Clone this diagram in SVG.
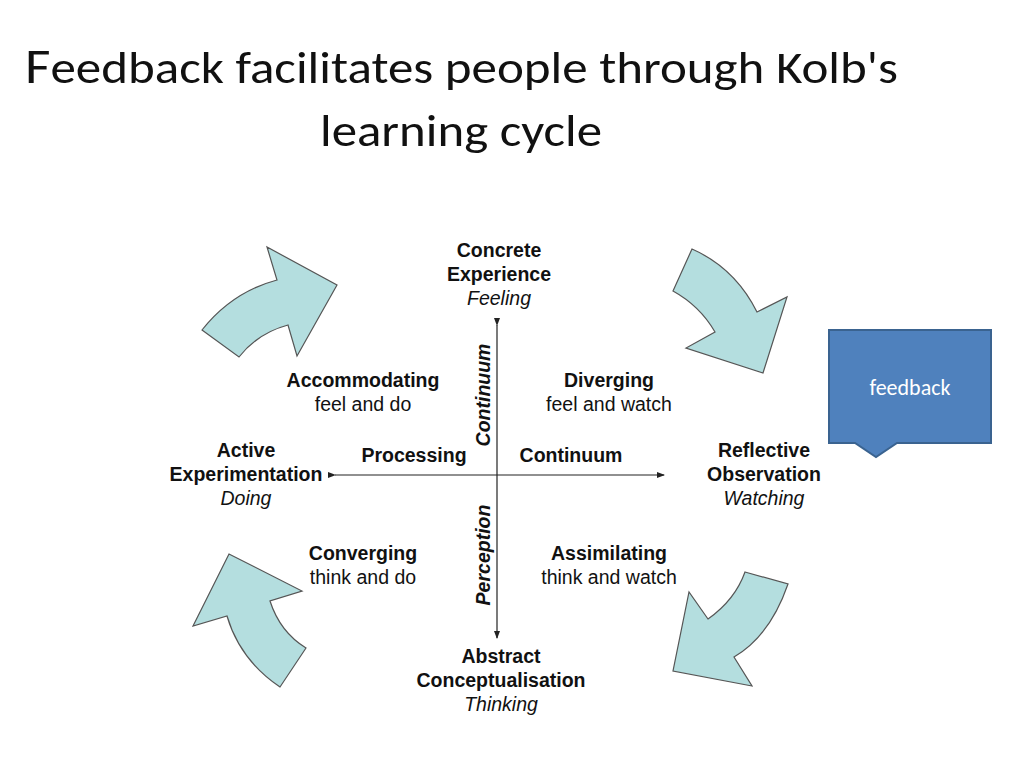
<svg xmlns="http://www.w3.org/2000/svg" width="1024" height="768" viewBox="0 0 1024 768">
<defs>
<style>
.t{font-family:"Liberation Sans",Arial,sans-serif;font-size:19.5px;fill:#111;text-anchor:middle}
.b{font-weight:bold}
.i{font-style:italic}
.arr{fill:#b4dedf;stroke:#555;stroke-width:1.2}
.ax{stroke:#222;stroke-width:1.2;fill:none}
</style>
<marker id="ah" markerWidth="8" markerHeight="8" refX="7" refY="4" orient="auto" markerUnits="userSpaceOnUse"><path d="M0,1 L8,4 L0,7Z" fill="#222"/></marker>
</defs>
<rect width="1024" height="768" fill="#fff"/>
<g id="title" font-family="Calibri,Carlito,'Liberation Sans',sans-serif" font-size="46" fill="#111">
<text x="25" y="83" textLength="873" lengthAdjust="spacingAndGlyphs"><tspan font-size="50">F</tspan>eedback facilitates people through Kolb's</text>
<text x="320" y="146" textLength="282" lengthAdjust="spacingAndGlyphs">learning cycle</text>
</g>
<g id="connectors">
<line class="ax" x1="497" y1="325" x2="497" y2="638" marker-start="url(#ah)" marker-end="url(#ah)"/>
<line class="ax" x1="335" y1="475" x2="664" y2="475" marker-start="url(#ah)" marker-end="url(#ah)"/>
</g>
<g id="cycle-arrows">
<path class="arr" d="M202,330 L239,357 Q258,333 288,325 L297,356 L337,285 L267,247 L277,280 Q232,292 202,330Z"/>
<path class="arr" d="M692,249 L673,291 Q700,306 715,332 L686,348 L763,373 L787,297 L757,312 Q735,268 692,249Z"/>
<path class="arr" d="M745,572 L788,584 Q770,636 734,657 L752,686 L673,671 L689,592 L708,619 Q735,600 745,572Z"/>
<path class="arr" d="M306,648 L280,687 Q240,660 227,616 L193,626 L229,554 L302,591 L270,601 Q280,632 306,648Z"/>
</g>
<g id="ce"><text class="t b" x="499" y="257">Concrete</text><text class="t b" x="499" y="281">Experience</text><text class="t i" x="499" y="305">Feeling</text></g>
<g id="ro"><text class="t b" x="764" y="457">Reflective</text><text class="t b" x="764" y="481">Observation</text><text class="t i" x="764" y="505">Watching</text></g>
<g id="ac"><text class="t b" x="501" y="663">Abstract</text><text class="t b" x="501" y="687">Conceptualisation</text><text class="t i" x="501" y="711">Thinking</text></g>
<g id="ae"><text class="t b" x="246" y="457">Active</text><text class="t b" x="246" y="481">Experimentation</text><text class="t i" x="246" y="505">Doing</text></g>
<g id="acc"><text class="t b" x="363" y="387">Accommodating</text><text class="t" x="363" y="411">feel and do</text></g>
<g id="div"><text class="t b" x="609" y="387">Diverging</text><text class="t" x="609" y="411">feel and watch</text></g>
<g id="conv"><text class="t b" x="363" y="560">Converging</text><text class="t" x="363" y="584">think and do</text></g>
<g id="assim"><text class="t b" x="609" y="560">Assimilating</text><text class="t" x="609" y="584">think and watch</text></g>
<g id="axis-labels">
<text class="t b" x="414" y="462">Processing</text>
<text class="t b" x="571" y="462">Continuum</text>
<text class="t b i" transform="translate(490,395) rotate(-90)">Continuum</text>
<text class="t b i" transform="translate(490,555) rotate(-90)">Perception</text>
</g>
<g id="feedback">
<path d="M829,330 H991 V443 H897 L876,457 L855,443 H829Z" fill="#4f81bd" stroke="#3a6390" stroke-width="2"/>
<text x="910" y="395" font-family="Calibri,Carlito,'Liberation Sans',sans-serif" font-size="22" fill="#fff" text-anchor="middle">feedback</text>
</g>
</svg>
